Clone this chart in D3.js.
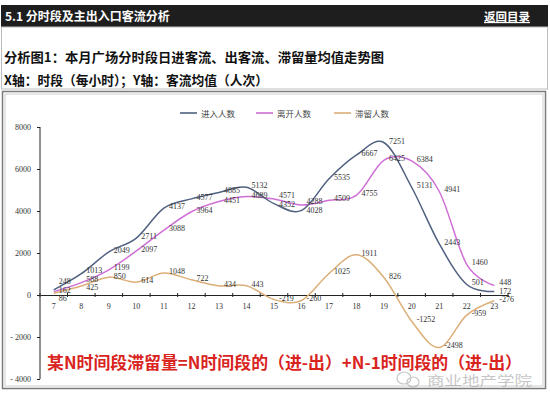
<!DOCTYPE html>
<html><head><meta charset="utf-8">
<script src="https://cdn.jsdelivr.net/npm/d3@7/dist/d3.min.js"></script>
<style>
html,body{margin:0;padding:0;background:#fff;}
svg{display:block;}
</style></head>
<body>
<script>
const hours = ["7","8","9","10","11","12","13","14","15","16","17","18","19","20","21","22","23"];
const inflow = [248, 1013, 2049, 2711, 4137, 4577, 4885, 5132, 4352, 4028, 5535, 6667, 7251, 5131, 2443, 501, 172];
const outflow = [162, 588, 1199, 2097, 3088, 3964, 4451, 4689, 4571, 4288, 4509, 4755, 6425, 6384, 4941, 1460, 448];
const retention = [86, 425, 850, 614, 1048, 722, 434, 443, -219, -260, 1025, 1911, 826, -1252, -2498, -959, -276];
const seriesNames = ["进入人数", "离开人数", "滞留人数"];
const yTicks = [-4000, -2000, 0, 2000, 4000, 6000, 8000];
const titleText = "5.1 分时段及主出入口客流分析";
const backText = "返回目录";
const subtitle1 = "分析图1：本月广场分时段日进客流、出客流、滞留量均值走势图";
const subtitle2 = "X轴：时段（每小时）；Y轴：客流均值（人次）";
const noteText = "某N时间段滞留量=N时间段的（进-出）+N-1时间段的（进-出）";
const watermark = "商业地产学院";

const W = 550, H = 393;
const svg = d3.select("body").append("svg").attr("width", W).attr("height", H);
const cjk = "'Noto Sans CJK SC','Noto Sans',sans-serif";

// header bar
svg.append("rect").attr("x", 1).attr("y", 5).attr("width", 547).attr("height", 22).attr("fill", "#1e1e1e");
svg.append("text").attr("x", 5).attr("y", 21).attr("fill", "#fff").attr("font-family", cjk)
  .attr("font-weight", "bold").attr("font-size", 12).text(titleText);
svg.append("text").attr("x", 530).attr("y", 21).attr("text-anchor", "end").attr("fill", "#fff")
  .attr("font-family", cjk).attr("font-weight", "bold").attr("font-size", 11.5)
  .attr("text-decoration", "underline").text(backText);

// frame around text section
svg.append("rect").attr("x", 1.5).attr("y", 27).attr("width", 546).attr("height", 62)
  .attr("fill", "none").attr("stroke", "#bdbdbd").attr("stroke-width", 1);
svg.append("text").attr("x", 4).attr("y", 62).attr("fill", "#111").attr("font-family", cjk)
  .attr("font-weight", "bold").attr("font-size", 13).attr("textLength", 380).attr("lengthAdjust", "spacingAndGlyphs").text(subtitle1);
svg.append("text").attr("x", 4).attr("y", 85).attr("fill", "#111").attr("font-family", cjk)
  .attr("font-weight", "bold").attr("font-size", 13).attr("textLength", 264).attr("lengthAdjust", "spacingAndGlyphs").text(subtitle2);

// chart frame
svg.append("rect").attr("x", 2.5).attr("y", 91.5).attr("width", 543).attr("height", 297)
  .attr("fill", "#fff").attr("stroke", "#7a7a7a").attr("stroke-width", 1.5);
svg.append("rect").attr("x", 5).attr("y", 94).attr("width", 538).attr("height", 292)
  .attr("fill", "none").attr("stroke", "#cfcfcf").attr("stroke-width", 1);

// scales
const x = d3.scaleBand().domain(hours).range([40, 508]).paddingInner(0).paddingOuter(0);
const cx = d => x(d) + x.bandwidth() / 2;
const y = d3.scaleLinear().domain([-4000, 8000]).range([379, 127]);

// y axis
const yAxis = svg.append("g").attr("transform", "translate(40,0)")
  .call(d3.axisLeft(y).tickValues(yTicks).tickSize(3).tickPadding(6)
    .tickFormat(d => d < 0 ? "- " + Math.abs(d) : String(d)));
yAxis.selectAll("text").attr("font-family", "'Liberation Serif',serif").attr("font-size", 8).attr("fill", "#333");
yAxis.selectAll("line").attr("stroke", "#222");
yAxis.select(".domain").attr("stroke", "#222").attr("d", "M0,127V379");

// x axis at zero
const xAxis = svg.append("g").attr("transform", `translate(0,${y(0)})`)
  .call(d3.axisBottom(x).tickSize(0).tickPadding(8));
xAxis.selectAll("text").attr("font-family", "'Liberation Serif',serif").attr("font-size", 8).attr("fill", "#333");
xAxis.select(".domain").attr("stroke", "#222").attr("stroke-width", 1.2);
const bounds = hours.map(h => x(h)).concat([x(hours[hours.length - 1]) + x.bandwidth()]);
xAxis.selectAll("line.b").data(bounds).enter().append("line").attr("class", "b")
  .attr("x1", d => d).attr("x2", d => d).attr("y1", -2).attr("y2", 2).attr("stroke", "#222");

// series
const colors = ["#4f6080", "#cf6fd6", "#dcae78"];
const allSeries = [inflow, outflow, retention];
const line = d3.line().x((d, i) => cx(hours[i])).y(d => y(d)).curve(d3.curveCatmullRom.alpha(0));
[2, 1, 0].forEach(k => {
  svg.append("path").datum(allSeries[k]).attr("d", line).attr("fill", "none")
    .attr("stroke", colors[k]).attr("stroke-width", 1.5);
});

// data labels with simple vertical de-overlap per hour
const labels = [];
const minGap = 8.6;
hours.forEach((h, i) => {
  const group = allSeries.map((s, k) => ({ v: s[i], k, x: cx(h) + 5, y: y(s[i]) + 1 }));
  group.sort((a, b) => a.y - b.y);
  for (let pass = 0; pass < 6; pass++) {
    for (let j = 1; j < group.length; j++) {
      const gap = group[j].y - group[j - 1].y;
      if (gap < minGap) {
        const push = (minGap - gap) / 2;
        group[j - 1].y -= push; group[j].y += push;
      }
    }
  }
  group.forEach(g => labels.push(g));
});
svg.append("g").selectAll("text").data(labels).enter().append("text")
  .attr("x", d => d.x).attr("y", d => d.y)
  .attr("font-family", "'Liberation Serif',serif").attr("font-size", 8).attr("fill", "#333")
  .text(d => String(d.v));

// legend
const legX = [180, 256, 334];
seriesNames.forEach((n, k) => {
  svg.append("line").attr("x1", legX[k]).attr("x2", legX[k] + 17).attr("y1", 113).attr("y2", 113)
    .attr("stroke", colors[k]).attr("stroke-width", 1.6);
  svg.append("text").attr("x", legX[k] + 21).attr("y", 116.5).attr("font-family", cjk)
    .attr("font-size", 8.5).attr("fill", "#444").text(n);
});

// red note
svg.append("text").attr("x", 47).attr("y", 369).attr("fill", "#d9231d").attr("font-family", cjk)
  .attr("font-weight", "bold").attr("font-size", 16.5).attr("textLength", 475).attr("lengthAdjust", "spacingAndGlyphs")
  .text(noteText);

// watermark
const wm = svg.append("g").attr("opacity", 0.55);
wm.append("ellipse").attr("cx", 404).attr("cy", 378).attr("rx", 7).attr("ry", 6).attr("fill", "none").attr("stroke", "#999").attr("stroke-width", 1.2);
wm.append("ellipse").attr("cx", 413).attr("cy", 382).attr("rx", 6).attr("ry", 5).attr("fill", "none").attr("stroke", "#999").attr("stroke-width", 1.2);
wm.append("text").attr("x", 427).attr("y", 385).attr("fill", "#9a9a9a").attr("font-family", cjk)
  .attr("font-size", 13).attr("textLength", 105).attr("lengthAdjust", "spacingAndGlyphs").text(watermark);
</script>
</body></html>
